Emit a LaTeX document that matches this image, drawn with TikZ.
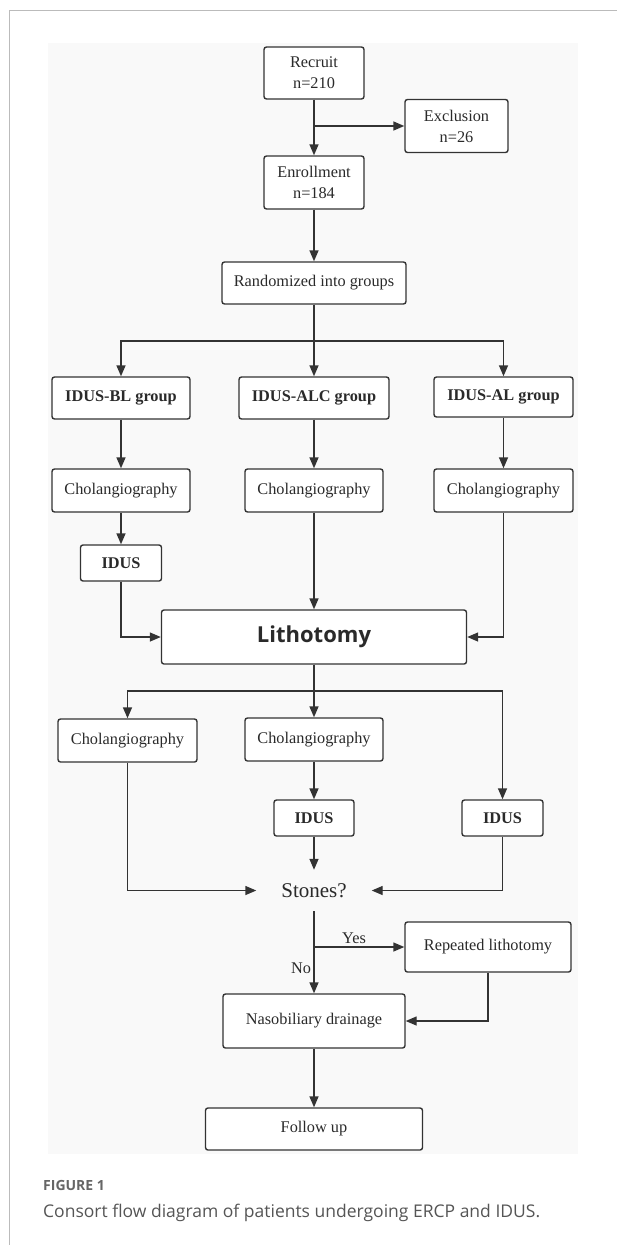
\documentclass[tikz,border=0pt]{standalone}
\usepackage{fontspec}
\setmainfont{Liberation Serif}
\newfontfamily\lithofont{Open Sans}
\newfontfamily\capfont{Open Sans}
\usetikzlibrary{arrows.meta}
\definecolor{ln}{HTML}{333333}
\definecolor{txt}{HTML}{2A2A2A}
\definecolor{panel}{HTML}{F9F9F9}
\definecolor{frame}{HTML}{BBBBBB}
\definecolor{capc}{HTML}{555555}
\tikzset{
  box/.style={draw=ln, line width=1.4pt, rounded corners=2.5pt, fill=white, text=txt,
    inner sep=0pt, align=center, font=\fontsize{16.3}{21}\selectfont},
  boldbox/.style={box, font=\bfseries\fontsize{16.3}{21}\selectfont},
  arr/.style={draw=ln, line width=1.4pt, -{Triangle[length=11pt,width=9pt]}},
  ln/.style={draw=ln, line width=1.4pt},
  lbl/.style={text=txt, inner sep=0pt, font=\fontsize{16.3}{20}\selectfont}
}
\begin{document}
\begin{tikzpicture}[x=1pt,y=-1pt]
\useasboundingbox (0,0) rectangle (617,1245);
\fill[white] (0,0) rectangle (617,1245);
\draw[frame, line width=1pt] (617,10) -- (9,10) -- (9,1245);
\fill[panel] (48,43) rectangle (578,1154);

% nodes
\node[box, minimum width=100, minimum height=52] (rec) at (314,73) {Recruit\\n=210};
\node[box, minimum width=103, minimum height=53] (exc) at (456.5,126) {Exclusion\\n=26};
\node[box, minimum width=100, minimum height=53] (enr) at (314,182.5) {Enrollment\\n=184};
\node[box, minimum width=184, minimum height=42] (ran) at (314,283) {Randomized into groups};

\node[boldbox, minimum width=138, minimum height=42] (bl) at (121,398) {IDUS-BL group};
\node[boldbox, minimum width=150, minimum height=42] (alc) at (314,398) {IDUS-ALC group};
\node[boldbox, minimum width=139, minimum height=40] (al) at (503.5,397) {IDUS-AL group};

\node[box, minimum width=138, minimum height=43] (cbl) at (121,490.5) {Cholangiography};
\node[box, minimum width=138, minimum height=43] (calc) at (314,490.5) {Cholangiography};
\node[box, minimum width=139, minimum height=43] (cal) at (503.5,490.5) {Cholangiography};

\node[boldbox, minimum width=81, minimum height=36] (ibl) at (121,563) {IDUS};

\node[box, minimum width=305, minimum height=54, font=\lithofont\bfseries\fontsize{22}{26}\selectfont] (lit) at (314,637) {Lithotomy};

\node[box, minimum width=139, minimum height=43] (c2l) at (127.5,740.5) {Cholangiography};
\node[box, minimum width=138, minimum height=43] (c2m) at (314,739.5) {Cholangiography};
\node[boldbox, minimum width=80, minimum height=36] (i2m) at (314,818) {IDUS};
\node[boldbox, minimum width=81, minimum height=36] (i2r) at (502.5,818) {IDUS};

\node[inner sep=0pt, minimum width=115, minimum height=41, text=txt, font=\fontsize{21}{25}\selectfont] (sto) at (314,890.5) {Stones?};

\node[box, minimum width=166, minimum height=50] (rep) at (488,947) {Repeated lithotomy};
\node[box, minimum width=182, minimum height=54] (nas) at (314,1021) {Nasobiliary drainage};
\node[box, minimum width=217, minimum height=42] (fol) at (314,1129) {Follow up};

% coordinates
\coordinate (s1) at (314,126);
\coordinate (s2) at (314,341);
\coordinate (s3) at (314,691);
\coordinate (s4) at (314,947);

% connectors
\draw[ln] (rec.south) -- (s1);
\draw[arr] (s1) -- (enr.north);
\draw[arr] (s1) -- (exc.west);
\draw[arr] (enr.south) -- (ran.north);

\draw[ln] (ran.south) -- (s2);
\draw[arr] (s2) -| (bl.north);
\draw[arr] (s2) -- (alc.north);
\draw[arr] (s2) -| (al.north);

\draw[arr] (bl.south) -- (cbl.north);
\draw[arr] (cbl.south) -- (ibl.north);
\draw[arr] (ibl.south) |- (lit.west);
\draw[arr] (alc.south) -- (calc.north);
\draw[arr] (calc.south) -- (lit.north);
\draw[arr] (al.south) -- (cal.north);
\draw[arr] (cal.south) |- (lit.east);

\draw[ln] (lit.south) -- (s3);
\draw[arr] (s3) -| (c2l.north);
\draw[arr] (s3) -- (c2m.north);
\draw[arr] (s3) -| (i2r.north);

\draw[arr] (c2l.south) |- (sto.west);
\draw[arr] (c2m.south) -- (i2m.north);
\draw[arr] (i2m.south) -- (sto.north);
\draw[arr] (i2r.south) |- (sto.east);

\draw[ln] (sto.south) -- (s4);
\draw[arr] (s4) -- (rep.west);
\draw[arr] (s4) -- (nas.north);
\draw[arr] (rep.south) |- (nas.east);
\draw[arr] (nas.south) -- (fol.north);

\node[lbl] (yes) at (354,938) {Yes};
\node[lbl] (no) at (301,968) {No};

% caption
\node[anchor=base west, inner sep=0pt, text=capc!90!white, font=\capfont\bfseries\fontsize{14}{16}\selectfont] (fig) at (43,1190) {FIGURE 1};
\node[anchor=base west, inner sep=0pt, text=capc, font=\capfont\fontsize{17.5}{20}\selectfont] (cap) at (43,1217) {Consort flow diagram of patients undergoing ERCP and IDUS.};
\end{tikzpicture}
\end{document}
